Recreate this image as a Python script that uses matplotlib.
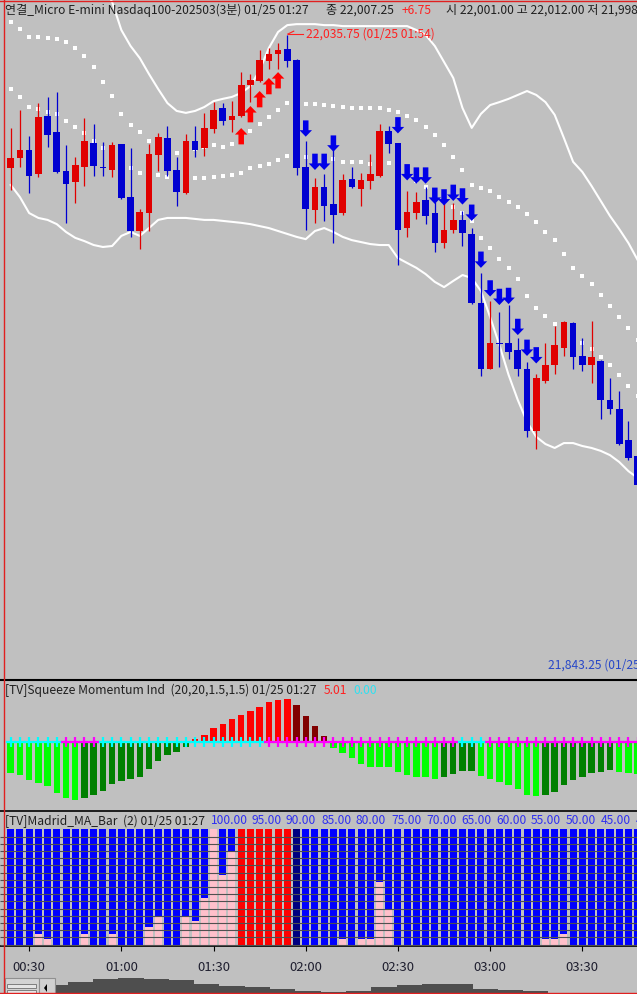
import numpy as np
import matplotlib
matplotlib.use('Agg')
import matplotlib.pyplot as plt
from matplotlib.patches import Polygon, Rectangle
from matplotlib.lines import Line2D

plt.rcParams['font.family'] = ['Noto Sans CJK KR', 'DejaVu Sans']

# ---- data (3-minute bars, 00:24 .. 03:48) ----
tick_idx = [2, 12, 22, 32, 42, 52, 62]
tick_labels = ['00:30', '01:00', '01:30', '02:00', '02:30', '03:00', '03:30']

opens = [21995.0, 21998.0, 22000.5, 21993.25, 22011.0, 22006.0, 21994.0, 21990.75, 21995.25, 22002.75,
         21995.25, 21994.25, 22002.25, 21986.0, 21975.75, 21981.25, 21999.0, 22004.25, 21994.25, 21987.25,
         22003.25, 22001.0, 22007.0, 22013.5, 22009.75, 22011.0, 22020.5, 22021.75, 22027.75, 22030.0,
         22031.5, 22028.0, 21995.25, 21982.0, 21989.25, 21984.0, 21981.25, 21991.5, 21988.5, 21991.0,
         21992.5, 22006.25, 22002.75, 21976.5, 21981.25, 21985.25, 21981.25, 21972.0, 21976.0, 21979.0,
         21974.75, 21953.5, 21933.5, 21941.25, 21941.25, 21939.25, 21933.5, 21914.25, 21929.75, 21934.5,
         21939.75, 21947.5, 21937.5, 21934.5, 21936.0, 21923.75, 21921.25, 21911.75, 21906.75]
highs = [22007.25, 22012.75, 22004.75, 22015.0, 22016.75, 22018.25, 22002.0, 21998.25, 22010.25, 22008.5,
         22003.0, 22003.0, 22002.5, 22001.0, 21982.5, 22002.25, 22005.75, 22007.75, 21998.25, 22005.5,
         22007.75, 22012.0, 22015.25, 22015.0, 22015.5, 22024.5, 22023.75, 22031.25, 22031.75, 22033.25,
         22035.75, 22028.5, 22003.25, 21992.0, 21993.25, 22004.5, 21993.25, 21995.25, 21993.5, 21999.25,
         22008.5, 22007.75, 22002.75, 21988.0, 21987.5, 21989.25, 21984.5, 21985.25, 21984.25, 21981.75,
         21976.5, 21962.75, 21954.25, 21951.0, 21953.0, 21942.75, 21935.5, 21932.0, 21941.25, 21946.5,
         21948.25, 21947.75, 21942.75, 21948.0, 21936.25, 21930.75, 21926.75, 21917.5, 21907.0]
lows = [21988.25, 21995.25, 21987.25, 21992.25, 22001.5, 21993.5, 21978.0, 21984.25, 21989.5, 21992.5,
        21992.5, 21992.25, 21985.5, 21973.75, 21970.25, 21975.75, 21994.0, 21992.5, 21983.5, 21987.0,
        21998.25, 21998.75, 22005.75, 22008.25, 22006.0, 22010.5, 22015.25, 22021.5, 22025.25, 22025.5,
        22026.0, 21992.75, 21976.0, 21978.0, 21978.75, 21972.0, 21980.5, 21989.0, 21983.25, 21988.5,
        21992.25, 21999.75, 21965.25, 21974.0, 21979.25, 21977.75, 21969.25, 21970.5, 21975.0, 21971.0,
        21953.25, 21931.25, 21933.25, 21934.0, 21936.5, 21931.25, 21912.5, 21909.0, 21929.0, 21931.75,
        21937.25, 21933.5, 21932.75, 21929.25, 21918.0, 21919.75, 21910.25, 21905.5, 21897.5]
closes = [21998.0, 22000.5, 21992.5, 22010.5, 22005.0, 21993.75, 21990.25, 21996.0, 22003.25, 21995.5,
          21995.0, 22002.0, 21985.75, 21975.75, 21981.5, 21999.25, 22004.5, 21994.0, 21987.5, 22003.25,
          22000.5, 22007.25, 22012.75, 22009.5, 22011.0, 22020.5, 22022.0, 22028.0, 22030.0, 22031.25,
          22027.75, 21995.0, 21982.5, 21989.25, 21983.5, 21980.5, 21991.25, 21989.25, 21991.25, 21993.25,
          22006.25, 22002.25, 21976.0, 21981.5, 21984.5, 21980.25, 21972.0, 21976.0, 21979.0, 21975.0,
          21953.5, 21933.5, 21941.5, 21941.0, 21938.5, 21933.5, 21914.5, 21930.5, 21934.75, 21940.75,
          21947.75, 21937.0, 21934.5, 21937.0, 21923.75, 21921.25, 21910.5, 21906.25, 21897.75]

bb_upper = [22058.8, 22059.4, 22060.3, 22060.3, 22060.6, 22060.9, 22061.2, 22060.6, 22058.8, 22055.7,
            22051.1, 22045.9, 22037.3, 22032.4, 22028.7, 22023.8, 22019.2, 22014.9, 22012.5, 22011.9,
            22012.5, 22013.7, 22015.5, 22016.2, 22016.8, 22018.0, 22020.1, 22025.0, 22031.8, 22036.7,
            22038.8, 22039.1, 22039.1, 22039.1, 22038.8, 22038.8, 22038.5, 22038.5, 22038.5, 22038.5,
            22038.5, 22038.5, 22038.5, 22038.5, 22037.3, 22035.8, 22032.4, 22027.5, 22022.6, 22013.4,
            22007.3, 22011.6, 22014.3, 22015.2, 22016.2, 22017.4, 22018.6, 22017.4, 22015.2, 22011.3,
            22004.2, 21996.9, 21993.8, 21989.5, 21984.9, 21980.3, 21976.3, 21972.0, 21966.8]
bb_lower = [21989.8, 21986.1, 21981.2, 21979.7, 21979.1, 21977.8, 21975.4, 21973.6, 21972.6, 21971.4,
            21970.8, 21971.1, 21974.2, 21975.4, 21974.2, 21976.6, 21979.1, 21979.7, 21979.7, 21979.7,
            21979.4, 21979.1, 21979.1, 21978.8, 21978.5, 21978.2, 21977.8, 21977.2, 21976.6, 21975.7,
            21974.8, 21973.9, 21973.2, 21975.7, 21976.6, 21975.4, 21973.9, 21972.9, 21972.3, 21971.7,
            21971.4, 21971.4, 21967.4, 21965.9, 21964.4, 21962.5, 21960.1, 21958.5, 21960.4, 21962.2,
            21961.3, 21957.3, 21949.3, 21940.8, 21931.6, 21923.9, 21917.2, 21912.6, 21910.4, 21909.2,
            21910.7, 21910.7, 21909.8, 21909.2, 21908.3, 21907.0, 21904.9, 21902.1, 21900.0]
kc_upper = [22039.7, 22037.5, 22035.2, 22035.2, 22034.8, 22034.5, 22033.5, 22031.9, 22029.4, 22026.1,
            22021.3, 22017.0, 22011.7, 22008.1, 22006.1, 22003.4, 22001.8, 22000.5, 21999.5, 22000.2,
            22000.8, 22001.4, 22002.1, 22001.5, 22002.3, 22004.1, 22006.3, 22008.4, 22010.5, 22012.8,
            22014.8, 22014.8, 22014.5, 22014.5, 22014.3, 22014.0, 22013.6, 22013.5, 22013.5, 22013.3,
            22013.3, 22012.8, 22012.2, 22010.8, 22009.6, 22007.5, 22005.1, 22002.0, 21998.4, 21994.3,
            21989.8, 21988.8, 21988.0, 21986.2, 21984.7, 21983.1, 21980.8, 21978.4, 21975.5, 21972.9,
            21968.6, 21964.3, 21962.0, 21959.5, 21956.1, 21952.7, 21949.4, 21945.9, 21942.3]
kc_lower = [22019.2, 22016.8, 22013.6, 22013.0, 22012.1, 22011.5, 22009.3, 22007.5, 22005.6, 22003.3,
            22001.0, 21999.0, 21997.2, 21995.1, 21993.4, 21993.0, 21992.8, 21992.2, 21991.9, 21991.9,
            21991.9, 21991.9, 21992.3, 21992.7, 21992.9, 21993.4, 21995.1, 21995.7, 21996.2, 21997.5,
            21998.7, 21998.5, 21998.4, 21998.2, 21998.1, 21997.8, 21996.8, 21996.8, 21996.9, 21996.2,
            21996.2, 21996.5, 21994.7, 21992.6, 21991.1, 21989.1, 21986.7, 21984.7, 21983.0, 21981.3,
            21978.8, 21973.5, 21970.4, 21967.1, 21964.3, 21960.9, 21955.8, 21952.2, 21949.7, 21947.1,
            21944.4, 21942.9, 21941.3, 21939.5, 21937.1, 21934.5, 21931.5, 21928.2, 21925.1]

up_arrow_idx = [25, 26, 27, 28, 29]
up_arrow_tip = [22007.25, 22014.0, 22018.6, 22022.6, 22024.4]
down_arrow_idx = [32, 33, 34, 35, 42, 43, 44, 45, 46, 47, 48, 49, 50, 51, 52, 53, 54, 55, 56, 57]
down_arrow_tip = [22004.6, 21994.4, 21994.4, 22000.0, 22005.6, 21991.2, 21990.2, 21990.2, 21984.0, 21983.5,
                  21984.9, 21983.8, 21978.8, 21964.4, 21955.6, 21953.0, 21953.3, 21943.8, 21937.4, 21935.1]

momentum = [-23.25, -25.2, -28.5, -30.75, -32.7, -38.25, -42.0, -43.5, -42.0, -39.5,
            -36.75, -31.5, -29.25, -27.75, -26.0, -20.0, -14.25, -9.75, -7.5, -3.75,
            1.8, 5.01, 10.0, 13.5, 17.25, 20.0, 23.25, 26.25, 30.0, 31.3,
            32.0, 27.5, 19.5, 11.8, 4.3, -4.5, -8.25, -12.0, -16.5, -18.6,
            -18.8, -19.0, -22.5, -24.75, -26.25, -26.4, -27.75, -26.25, -24.0, -21.75,
            -21.6, -25.5, -27.75, -30.0, -32.25, -35.25, -39.75, -40.5, -39.75, -37.5,
            -32.25, -28.5, -26.25, -23.25, -22.5, -21.0, -22.5, -23.25, -24.0]
squeeze_on = [0] * 6 + [1] * 4 + [0] * 18 + [1] * 21 + [0] * 3 + [1] * 17

madrid_trend = ['b'] * 25 + ['r'] * 6 + ['n'] + ['b'] * 37
madrid_pink = [10, 10, 10, 27.6, 23.7, 10, 10, 10, 27.6, 10,
               10, 27.6, 10, 10, 10, 32.2, 39.9, 10, 10, 39.9,
               36.4, 52.6, 100, 68.3, 84.5, 10, 10, 10, 10, 10,
               10, 10, 10, 10, 10, 10, 23.7, 10, 23.7, 23.7,
               63.7, 43.8, 10, 10, 10, 10, 10, 10, 10, 10,
               10, 10, 10, 10, 10, 10, 10, 10, 23.7, 23.7,
               27.6, 10, 10, 10, 10, 10, 10, 10, 10]
madrid_levels = [100, 95, 90, 85, 80, 75, 70, 65, 60, 55, 50, 45, 40]

overview = [8.3, 11.5, 14.4, 15.2, 14.4, 12.7, 9.1, 7, 6, 4.2, 2, 1.5,
            2, 6, 8, 9.5, 9, 4.5, 3.4, 2, 0.5, 0.2, 0, 0]

# ---- layout helpers (pixels) ----
W, H = 637, 994
BG = '#c0c0c0'
FS = 8.7
fig = plt.figure(figsize=(W / 100, H / 100), dpi=100, facecolor=BG)


def panel(top, bottom, left=0, right=W):
    ax = fig.add_axes([left / W, 1 - bottom / H, (right - left) / W, (bottom - top) / H])
    ax.set_facecolor(BG)
    for s in ax.spines.values():
        s.set_visible(False)
    ax.set_xticks([])
    ax.set_yticks([])
    return ax


def ftext(x, y, s, **kw):
    kw.setdefault('fontsize', FS)
    kw.setdefault('color', '#202020')
    fig.text(x / W, 1 - y / H, s, va='center', ha='left', **kw)


n = len(opens)
idx = np.arange(n)
o, h, l, c = map(np.array, (opens, highs, lows, closes))
xlim = ((0 - 10.7) / 9.22, (W - 10.7) / 9.22)
RED, BLUE = '#e00000', '#0000d0'

# ---- price panel ----
ax = panel(0, 679)
ax.set_xlim(xlim)
ax.set_ylim(22046.5 - 0.3065 * 679, 22046.5)
ax.plot(idx, bb_upper, color='white', lw=1.5, zorder=1)
ax.plot(idx, bb_lower, color='white', lw=1.5, zorder=1)
ax.plot(idx, kc_upper, ls='none', marker='s', ms=2.4, mew=0, color='white', zorder=2)
ax.plot(idx, kc_lower, ls='none', marker='s', ms=2.4, mew=0, color='white', zorder=2)

col = np.where(c > o, RED, BLUE)
ax.vlines(idx, l, h, colors=col, lw=0.9, zorder=3)
ax.bar(idx, np.maximum(np.abs(c - o), 0.3), bottom=np.minimum(o, c), width=0.72,
       color=col, lw=0, zorder=3)

hw, sw, hh, sh = 0.68, 0.3, 2.0, 3.0
for i, tip in zip(up_arrow_idx, up_arrow_tip):
    pts = [(i, tip), (i + hw, tip - hh), (i + sw, tip - hh), (i + sw, tip - hh - sh),
           (i - sw, tip - hh - sh), (i - sw, tip - hh), (i - hw, tip - hh)]
    ax.add_patch(Polygon(pts, closed=True, color='#ff0000', lw=0, zorder=4))
for i, tip in zip(down_arrow_idx, down_arrow_tip):
    pts = [(i, tip), (i + hw, tip + hh), (i + sw, tip + hh), (i + sw, tip + hh + sh),
           (i - sw, tip + hh + sh), (i - sw, tip + hh), (i - hw, tip + hh)]
    ax.add_patch(Polygon(pts, closed=True, color='#0000e8', lw=0, zorder=4))

# highest-high marker
hi = int(np.argmax(h))
hi_time = 24 + 3 * hi
ax.plot([hi + 0.05, hi + 1.65], [h[hi] + 0.3, h[hi] + 0.3], color='#ff2020', lw=0.8, zorder=5)
ax.plot([hi + 0.05, hi + 0.7], [h[hi] + 0.3, h[hi] + 1.2], color='#ff2020', lw=0.8, zorder=5)
ax.text(hi + 2.05, h[hi] + 0.3, f"{h[hi]:,.2f} (01/25 {hi_time // 60:02d}:{hi_time % 60:02d})",
        color='#ff2020', fontsize=FS, va='center', ha='left', zorder=5)

ftext(548, 665, "21,843.25 (01/25", color='#2848c8')

# header
k = 21
ftext(5, 10, "연결_Micro E-mini Nasdaq100-202503(3분) 01/25 01:27")
ftext(326, 10, f"종 {c[k]:,.2f}")
ftext(402, 10, f"+{c[k] - c[k - 1]:.2f}", color='#ff2020')
ftext(446, 10, f"시 {o[k]:,.2f} 고 {h[k]:,.2f} 저 {l[k]:,.2f}")

# ---- squeeze momentum panel ----
axs = panel(680, 809)
axs.set_xlim(xlim)
axs.set_ylim(-(809 - 741.7) / 1.34, (741.7 - 680) / 1.34)
axs.spines['top'].set_visible(True)
axs.spines['top'].set_linewidth(1.5)
mom = np.array(momentum)
mcol = []
for i, v in enumerate(mom):
    prev = mom[i - 1] if i > 0 else v + 1
    if v > 0:
        mcol.append('#ff0000' if v > prev else '#800000')
    else:
        mcol.append('#00ff00' if v < prev else '#008000')
axs.bar(idx, mom, width=0.7, color=mcol, lw=0, zorder=2)
sq = np.array(squeeze_on)
for flag, cc in ((0, '#00ffff'), (1, '#ff00ff')):
    m = sq == flag
    axs.plot(idx[m], np.zeros(m.sum()), ls='none', marker='+', ms=6.5, mew=1.6, color=cc, zorder=3)
ftext(5, 690, "[TV]Squeeze Momentum Ind  (20,20,1.5,1.5) 01/25 01:27")
ftext(324, 690, f"{mom[k]:.2f}", color='#ff2020')
ftext(353, 690, "0.00", color='#30e0f0')

# ---- Madrid MA bar panel ----
axm = panel(811, 946)
axm.set_xlim(xlim)
axm.set_ylim(100 - (946 - 829.3) / 7.21 * 5, 100 + (829.3 - 811) / 7.21 * 5)
for side in ('top', 'bottom'):
    axm.spines[side].set_visible(True)
    axm.spines[side].set_linewidth(1.2)
trend_colors = {'b': '#0000ff', 'r': '#ff0000', 'n': '#000080'}
axm.bar(idx, 100, width=0.76, color=[trend_colors[t] for t in madrid_trend], lw=0, zorder=2)
axm.bar(idx, madrid_pink, width=0.76, color='#ffc0cb', lw=0, zorder=3)
axm.hlines(np.arange(20, 100, 5), xlim[0], xlim[1], colors='#505050', lw=0.8, zorder=4)
axm.set_xticks(tick_idx)
axm.set_xticklabels(tick_labels)
axm.tick_params(axis='x', direction='out', length=3.6, width=0.8, pad=7,
                labelsize=9.5, labelcolor='#202030')
ftext(5, 821, "[TV]Madrid_MA_Bar  (2) 01/25 01:27")
for j, lv in enumerate(madrid_levels):
    xpos = 211 if j == 0 else 251 + 35 * (j - 1)
    ftext(xpos, 821, f"{lv:.2f}", color='#3030f0')

# ---- overview strip ----
axo = panel(975, 994, left=55)
axo.set_xlim(0, len(overview) - 1)
axo.set_ylim(-1, 18)
axo.fill_between(np.arange(len(overview)), -5, overview, color='#4e4e4e', lw=0, step='mid')


def prect(x0, y0, x1, y1, **kw):
    fig.add_artist(Rectangle((x0 / W, 1 - y1 / H), (x1 - x0) / W, (y1 - y0) / H,
                             transform=fig.transFigure, **kw))


prect(5, 978, 39, 996, facecolor='#d4d4d4', edgecolor='#909090', lw=0.8)
prect(7, 984, 36, 987.5, facecolor='#e6e6e6', edgecolor='#707070', lw=0.6)
prect(7, 990, 36, 993.5, facecolor='#e6e6e6', edgecolor='#707070', lw=0.6)
prect(39, 978, 55, 996, facecolor='#d0d0d0', edgecolor='#909090', lw=0.8)
fig.add_artist(Polygon([(44 / W, 1 - 988 / H), (47 / W, 1 - 984 / H), (47 / W, 1 - 992 / H)],
                       closed=True, transform=fig.transFigure, color='black', lw=0))

# window frame
for xs, ys in (([0, 1], [1 - 0.5 / H] * 2), ([3.5 / W] * 2, [0, 1]), ([0, 1], [0.6 / H] * 2)):
    fig.add_artist(Line2D(xs, ys, transform=fig.transFigure, color='#e02020', lw=1.0))

fig.savefig('out.png', dpi=100, facecolor=BG)
